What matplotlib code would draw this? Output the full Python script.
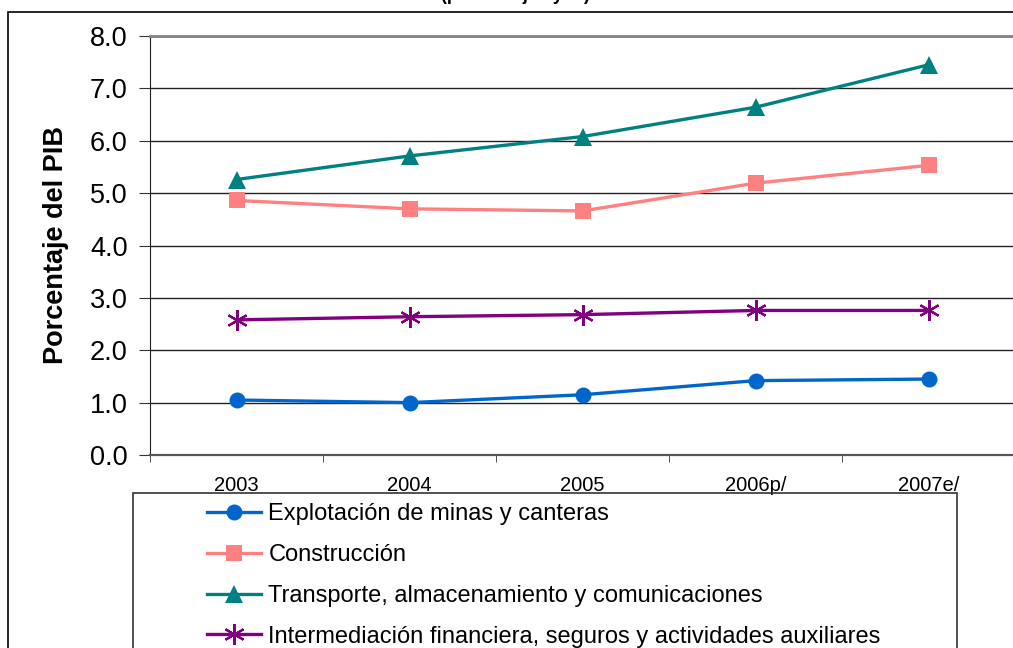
import matplotlib
matplotlib.use("Agg")
import matplotlib.pyplot as plt
from matplotlib.patches import Rectangle

plt.rcParams['font.family'] = ['Liberation Sans', 'DejaVu Sans']

# datos
anios = ['2003', '2004', '2005', '2006p/', '2007e/']
minas = [1.05, 1.0, 1.15, 1.42, 1.45]
construccion = [4.86, 4.70, 4.66, 5.19, 5.53]
transporte = [5.26, 5.71, 6.08, 6.64, 7.45]
financiera = [2.58, 2.64, 2.68, 2.76, 2.76]

series = [
    ("Explotación de minas y canteras", minas, '#0066CC', 'o', 11.5),
    ("Construcción", construccion, '#FF8080', 's', 11),
    ("Transporte, almacenamiento y comunicaciones", transporte, '#008080', '^', 12.5),
    ("Intermediación financiera, seguros y actividades auxiliares", financiera, '#800080', (6, 2, 0), 15),
]

W, H = 1013, 648
fig = plt.figure(figsize=(W / 100, H / 100), dpi=100)
ax = fig.add_axes([150 / W, 1 - 455 / H, 865 / W, 419 / H])

x = list(range(len(anios)))
for nombre, valores, color, marca, tam in series:
    ax.plot(x, valores, color=color, lw=2.4, marker=marca, markersize=tam,
            markeredgewidth=1.6 if marca == (6, 2, 0) else 0, label=nombre)

ax.set_xlim(-0.5, len(anios) - 0.5)
ax.set_ylim(0, 8)
ax.set_yticks([i for i in range(9)])
ax.set_yticklabels([f"{i:.1f}" for i in range(9)], fontsize=19.5)
ax.set_xticks(x)
ax.set_xticklabels(anios, fontsize=14.5)
ax.set_xticks([i - 0.5 for i in range(len(anios) + 1)], minor=True)
ax.tick_params(axis='x', which='major', length=0, pad=15)
ax.tick_params(axis='x', which='minor', length=5, color='#333333')
ax.tick_params(axis='y', length=8, pad=8, color='#333333')
ax.grid(axis='y', color='#222222', lw=1.0)
ax.set_axisbelow(True)

ax.spines['right'].set_visible(False)
ax.spines['top'].set_color('#808080')
ax.spines['top'].set_linewidth(2)
ax.spines['bottom'].set_color('#555555')
ax.spines['bottom'].set_linewidth(1.6)
ax.spines['left'].set_color('#222222')

ax.set_ylabel("Porcentaje del PIB", fontsize=19.5, fontweight='bold', labelpad=15)

# titulo cortado arriba (solo se ve la parte baja)
fig.text(515 / W, 1.0, "(porcentajes y %)", fontsize=13, fontweight='bold',
         ha='center', va='baseline')

# borde exterior del area del grafico
fig.patches.append(Rectangle((8 / W, -0.1), 1.2, 1 - 12 / H + 0.1, transform=fig.transFigure,
                             fill=False, edgecolor='black', lw=1.2))
# cuadro de la leyenda
fig.patches.append(Rectangle((133 / W, -0.1), 824 / W, 1 - 493 / H + 0.1, transform=fig.transFigure,
                             fill=False, edgecolor='#333333', lw=1.2))

leg = fig.legend(loc='upper left', bbox_to_anchor=(207 / W, 1 - 503 / H), frameon=False,
                 fontsize=17, handlelength=2.3, handletextpad=0.3, labelspacing=0.8,
                 borderpad=0, borderaxespad=0)

fig.savefig("out.png", dpi=100)
